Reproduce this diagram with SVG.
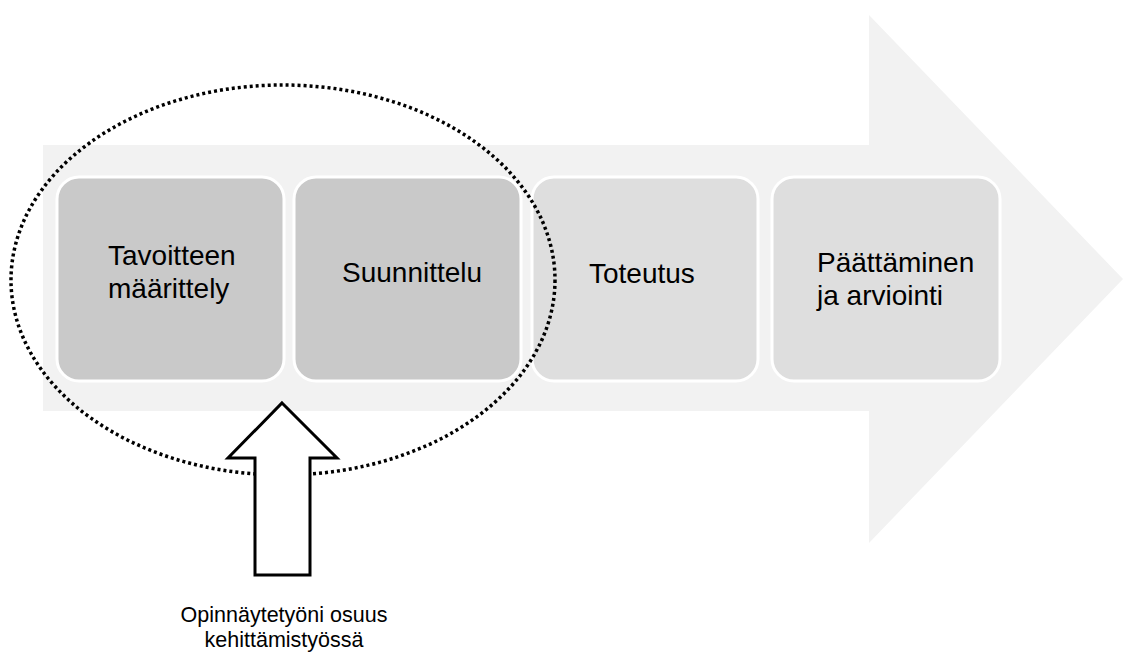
<svg xmlns="http://www.w3.org/2000/svg" width="1123" height="652" viewBox="0 0 1123 652">
  <style>
    .lbl { font-family: "Liberation Sans", Arial, sans-serif; font-size: 28px; fill: #000; }
    .cap { font-family: "Liberation Sans", Arial, sans-serif; font-size: 21.5px; fill: #000; text-anchor: middle; }
    .dark { fill: #c9c9c9; stroke: #ffffff; stroke-width: 3; }
    .light { fill: #dedede; stroke: #ffffff; stroke-width: 3; }
  </style>
  <rect x="0" y="0" width="1123" height="652" fill="#ffffff"/>
  <g id="process-arrow">
    <polygon points="43,145 869,145 869,15 1123,279 869,543 869,411 43,411" fill="#f2f2f2"/>
  </g>
  <g id="node-tavoitteen">
    <rect class="dark" x="57" y="177" width="227" height="204" rx="22"/>
    <text class="lbl" x="108" y="265">Tavoitteen</text>
    <text class="lbl" x="108" y="298">määrittely</text>
  </g>
  <g id="node-suunnittelu">
    <rect class="dark" x="294" y="177" width="227" height="204" rx="22"/>
    <text class="lbl" x="342" y="282">Suunnittelu</text>
  </g>
  <g id="node-toteutus">
    <rect class="light" x="532" y="177" width="226" height="204" rx="22"/>
    <text class="lbl" x="589" y="283">Toteutus</text>
  </g>
  <g id="node-paattaminen">
    <rect class="light" x="772" y="177" width="228" height="204" rx="22"/>
    <text class="lbl" x="817" y="272">Päättäminen</text>
    <text class="lbl" x="817" y="305">ja arviointi</text>
  </g>
  <g id="connectors">
    <ellipse id="scope" cx="283" cy="280" rx="272" ry="195" fill="none" stroke="#000" stroke-width="3.5" stroke-dasharray="3 3"/>
    <polygon id="up-arrow" points="282,403 337,458 310,458 310,575 255,575 255,458 228,458" fill="#ffffff" stroke="#000" stroke-width="3" stroke-linejoin="miter"/>
  </g>
  <g id="caption">
    <text class="cap" x="284" y="622">Opinnäytetyöni osuus</text>
    <text class="cap" x="284" y="647">kehittämistyössä</text>
  </g>
</svg>
